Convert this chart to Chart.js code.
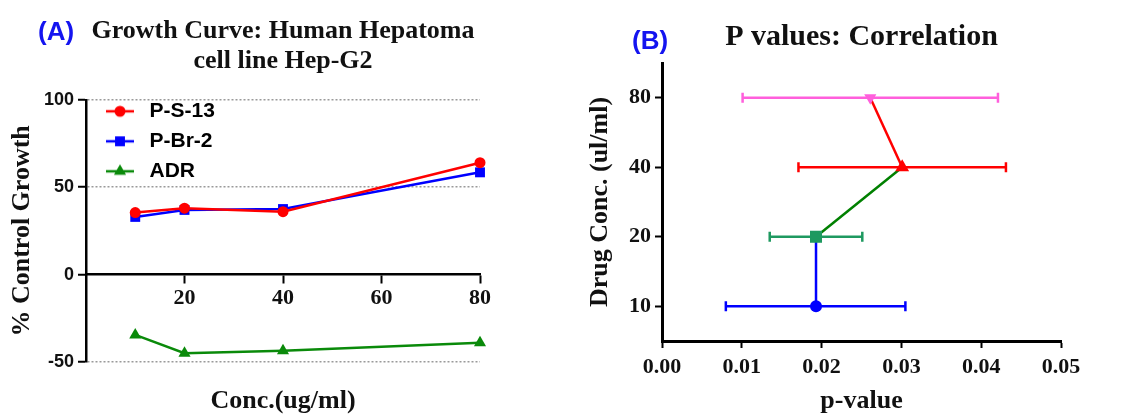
<!DOCTYPE html>
<html>
<head>
<meta charset="utf-8">
<script src="https://cdn.jsdelivr.net/npm/chart.js@4.4.1/dist/chart.umd.min.js"></script>
<style>
  html, body { margin: 0; padding: 0; background: #fff; }
  #wrap { position: relative; width: 1144px; height: 414px; overflow: hidden; }
  .panel { position: absolute; top: 0; height: 414px; }
  #panelA { left: 0; width: 560px; }
  #panelB { left: 560px; width: 584px; }
  .tag { position: absolute; font: bold 26px 'Liberation Sans', Arial, sans-serif; color: #1414f0; line-height: 26px; }
</style>
</head>
<body>
<div id="wrap">
  <div class="panel" id="panelA"><canvas id="chartA"></canvas></div>
  <div class="panel" id="panelB"><canvas id="chartB"></canvas></div>
  <div class="tag" style="left:38px;top:18px">(A)</div>
  <div class="tag" style="left:632px;top:27px">(B)</div>
</div>
<script>
const SERIF = "'Liberation Serif', 'Times New Roman', serif";
const SANS = "'Liberation Sans', Arial, sans-serif";

// (A) growth curve, % control growth vs concentration
const conc = [10, 20, 40, 80];
const ps13 = [35.5, 38, 36, 64];
const pbr2 = [33, 37, 37.5, 58.5];
const adr = [-34.5, -45, -43.5, -39];
const concTicks = [20, 40, 60, 80];
const growthTicks = [-50, 0, 50, 100];

// (B) p-values per drug concentration
const dose = ['10', '20', '40', '80'];
const doseAxis = ['80', '40', '20', '10'];
const pMean = [0.0193, 0.0193, 0.0301, 0.0261];
const pLow = [0.0080, 0.0135, 0.0171, 0.0101];
const pHigh = [0.0305, 0.0251, 0.0431, 0.0421];
const pTicks = [0, 0.01, 0.02, 0.03, 0.04, 0.05];

const pColors = ['#0000ff', '#1e9960', '#ff0000', '#ff5fdc'];
const segColors = ['#0000ff', '#008000', '#ff0000'];

const pts = ys => conc.map((x, i) => ({x, y: ys[i]}));
const setTicks = vals => s => { s.ticks = vals.map(v => ({value: v})); };

// legend swatch: short line with the marker on it
function swatch(color, style, radius) {
  const c = document.createElement('canvas');
  c.width = 44; c.height = 16;
  const g = c.getContext('2d');
  g.strokeStyle = color; g.fillStyle = color; g.lineWidth = 2.5;
  g.beginPath(); g.moveTo(11, 8); g.lineTo(39, 8); g.stroke();
  Chart.helpers.drawPoint(g, {pointStyle: style, radius, borderWidth: 0, rotation: 0}, 25, 8);
  return c;
}

const legendInside = {
  id: 'legendInside',
  afterLayout(chart) {
    const l = chart.legend, a = chart.chartArea;
    l.left = a.left; l.right = a.left + l.width;
    l.top = a.top - 8; l.bottom = l.top + l.height;
  }
};

const seriesA = [
  {label: 'P-S-13', data: pts(ps13), color: '#ff0000', style: 'circle', r: 5.5},
  {label: 'P-Br-2', data: pts(pbr2), color: '#0000ff', style: 'rect', r: 7},
  {label: 'ADR', data: pts(adr), color: '#0a8a0a', style: 'triangle', r: 7}
];

new Chart(document.getElementById('chartA'), {
  type: 'line',
  data: {
    datasets: seriesA.map(s => ({
      label: s.label, data: s.data, clip: false,
      borderColor: s.color, backgroundColor: s.color,
      borderWidth: 2.5, pointStyle: s.style, pointRadius: s.r,
      pointBorderWidth: 0, tension: 0
    }))
  },
  options: {
    responsive: true, maintainAspectRatio: false, animation: false,
    layout: {padding: {left: 0, right: 80, top: 0, bottom: 0}},
    plugins: {
      tooltip: {enabled: false},
      title: {
        display: true, fullSize: false,
        text: ['Growth Curve: Human Hepatoma', 'cell line Hep-G2'],
        color: '#111', font: {family: SERIF, size: 26, weight: 'bold', lineHeight: 1.15},
        padding: {top: 16, bottom: 24}
      },
      legend: {
        position: 'chartArea', align: 'start',
        labels: {
          usePointStyle: true, pointStyleWidth: 44, padding: 9, color: '#111',
          font: {family: SANS, size: 21, weight: 'bold'},
          generateLabels: chart => seriesA.map((s, i) => ({
            text: s.label, pointStyle: swatch(s.color, s.style, s.r),
            fillStyle: s.color, strokeStyle: s.color, lineWidth: 0, datasetIndex: i, hidden: false
          }))
        }
      }
    },
    scales: {
      x: {
        type: 'linear', position: {y: 0}, min: 0, max: 80,
        afterBuildTicks: setTicks(concTicks),
        afterFit: s => { s.height = 0; },
        grid: {drawOnChartArea: false, tickLength: 8, tickColor: '#000', tickWidth: 2},
        border: {color: '#000', width: 2.5},
        ticks: {color: '#111', padding: 3, maxRotation: 0, font: {family: SERIF, size: 22, weight: 'bold'}}
      },
      xTitle: {
        type: 'linear', axis: 'x', position: 'bottom',
        afterFit: s => { s.height = 52; },
        grid: {display: false}, border: {display: false}, ticks: {display: false},
        title: {display: true, text: 'Conc.(ug/ml)', color: '#111', padding: 0,
          font: {family: SERIF, size: 26, weight: 'bold', lineHeight: 1}}
      },
      y: {
        min: -50, max: 100,
        afterBuildTicks: setTicks(growthTicks),
        afterFit: s => { s.width = 86; },
        grid: {
          color: c => c.tick && c.tick.value === 0 ? 'transparent' : '#9a9a9a',
          lineWidth: 1.5, tickLength: 8, tickColor: '#000', tickWidth: 2
        },
        border: {color: '#000', width: 2.5, dash: [2, 2]},
        ticks: {color: '#111', padding: 4, font: {family: SANS, size: 18, weight: 'bold'}},
        title: {display: true, text: '% Control Growth', color: '#111', padding: {top: 9, bottom: 0},
          font: {family: SERIF, size: 26, weight: 'bold', lineHeight: 1}}
      }
    }
  },
  plugins: [legendInside]
});

// horizontal error bars with end caps, drawn under the markers
const errorBars = {
  id: 'errorBars',
  beforeDatasetsDraw(chart) {
    const {ctx, scales: {x}} = chart;
    const pts = chart.getDatasetMeta(0).data;
    ctx.save();
    ctx.lineWidth = 2.5;
    pts.forEach((p, i) => {
      const x0 = x.getPixelForValue(pLow[i]), x1 = x.getPixelForValue(pHigh[i]);
      ctx.strokeStyle = pColors[i];
      ctx.beginPath();
      ctx.moveTo(x0, p.y); ctx.lineTo(x1, p.y);
      ctx.moveTo(x0, p.y - 5); ctx.lineTo(x0, p.y + 5);
      ctx.moveTo(x1, p.y - 5); ctx.lineTo(x1, p.y + 5);
      ctx.stroke();
    });
    ctx.restore();
  }
};

new Chart(document.getElementById('chartB'), {
  type: 'line',
  data: {
    datasets: [{
      data: dose.map((d, i) => ({x: pMean[i], y: d})), clip: false,
      borderColor: '#008000', borderWidth: 2.5,
      segment: {borderColor: c => segColors[c.p0DataIndex]},
      pointStyle: ['circle', 'rect', 'triangle', 'triangle'],
      pointRotation: [0, 0, 0, 180],
      pointRadius: [6, 8.5, 8, 7],
      pointBackgroundColor: pColors, pointBorderWidth: 0
    }]
  },
  options: {
    responsive: true, maintainAspectRatio: false, animation: false,
    layout: {padding: {left: 0, right: 83, top: 0, bottom: 0}},
    plugins: {
      tooltip: {enabled: false},
      legend: {display: false},
      title: {
        display: true, fullSize: false, text: 'P values: Correlation',
        color: '#111', font: {family: SERIF, size: 30, weight: 'bold', lineHeight: 1.2},
        padding: {top: 19, bottom: 8}
      }
    },
    scales: {
      x: {
        type: 'linear', position: 'bottom', min: 0, max: 0.05,
        afterBuildTicks: setTicks(pTicks),
        afterFit: s => { s.height = 73; },
        grid: {drawOnChartArea: false, tickLength: 7, tickColor: '#000', tickWidth: 2},
        border: {color: '#000', width: 3},
        ticks: {color: '#111', padding: 6, maxRotation: 0, callback: v => v.toFixed(2),
          font: {family: SERIF, size: 22, weight: 'bold'}},
        title: {display: true, text: 'p-value', color: '#111', padding: 0,
          font: {family: SERIF, size: 26, weight: 'bold', lineHeight: 1}}
      },
      y: {
        type: 'category', labels: doseAxis, offset: true,
        afterFit: s => { s.width = 102; },
        grid: {drawOnChartArea: false, offset: false, tickLength: 7, tickColor: '#000', tickWidth: 2},
        border: {color: '#000', width: 3},
        ticks: {color: '#111', padding: 4, font: {family: SERIF, size: 22, weight: 'bold'}},
        title: {display: true, text: 'Drug Conc. (ul/ml)', color: '#111', padding: {top: 27, bottom: 0},
          font: {family: SERIF, size: 26, weight: 'bold', lineHeight: 1}}
      }
    }
  },
  plugins: [errorBars]
});
</script>
</body>
</html>
